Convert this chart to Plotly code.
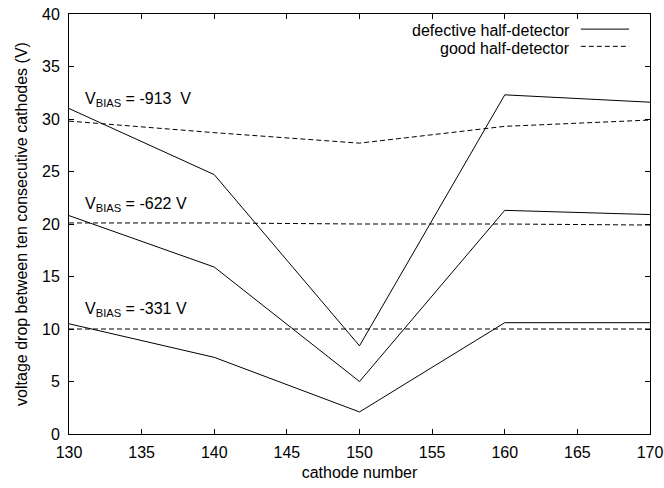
import plotly.graph_objects as go

cathodes = [130, 140, 150, 160, 170]
defective_913 = [31.0, 24.7, 8.4, 32.3, 31.6]
good_913 = [29.8, 28.7, 27.7, 29.3, 29.9]
defective_622 = [20.8, 15.9, 5.0, 21.3, 20.9]
good_622 = [20.1, 20.1, 20.0, 20.0, 19.9]
defective_331 = [10.5, 7.3, 2.1, 10.6, 10.6]
good_331 = [10.0, 10.0, 10.0, 10.0, 10.0]

bias_labels = ["V<sub>BIAS</sub> = -913&nbsp; V", "V<sub>BIAS</sub> = -622 V", "V<sub>BIAS</sub> = -331 V"]
bias_label_y = [31.9, 21.9, 11.9]
bias_label_x = 130.95

FONT = "Liberation Sans, Arial, Helvetica, sans-serif"
FS = 16
fig = go.Figure()
for ys in [defective_913, defective_622, defective_331]:
    fig.add_trace(go.Scatter(x=cathodes, y=ys, mode="lines",
                             line=dict(color="black", width=1), showlegend=False))
for ys in [good_913, good_622, good_331]:
    fig.add_trace(go.Scatter(x=cathodes, y=ys, mode="lines",
                             line=dict(color="black", width=1, dash="5px,3px"), showlegend=False))

for t, y in zip(bias_labels, bias_label_y):
    fig.add_annotation(x=bias_label_x, y=y, text=t, showarrow=False, xanchor="left",
                       yanchor="middle", font=dict(size=FS, color="black", family=FONT))

# legend drawn manually (text right, sample line on right side)
legend_items = [("defective half-detector", "solid"), ("good half-detector", "5px,3px")]
leg_y = [0.96, 0.919]
for (name, dash), ly in zip(legend_items, leg_y):
    fig.add_annotation(xref="paper", yref="paper", x=0.862, y=ly, text=name, showarrow=False,
                       xanchor="right", yanchor="middle", xshift=2,
                       font=dict(size=FS, color="black", family=FONT))
    fig.add_shape(type="line", xref="paper", yref="paper", x0=0.881, x1=0.964, y0=ly + 0.004, y1=ly + 0.004,
                  line=dict(color="black", width=1, dash=dash))

axis_common = dict(showline=True, linecolor="black", linewidth=1, mirror="ticks",
                   ticks="inside", ticklen=5, tickcolor="black", showgrid=False, zeroline=False,
                   tickfont=dict(size=FS, color="black", family=FONT))
fig.update_xaxes(range=[130, 170], dtick=5, tick0=130, ticklabelstandoff=4,
                 title=dict(text="cathode number", font=dict(size=FS, color="black", family=FONT), standoff=6),
                 **axis_common)
fig.update_yaxes(range=[0, 40], dtick=5, tick0=0, ticklabelstandoff=5,
                 title=dict(text="voltage drop between ten consecutive cathodes (V)",
                            font=dict(size=FS, color="black", family=FONT), standoff=10),
                 **axis_common)
fig.update_layout(width=664, height=488, margin=dict(l=69, r=14, t=14, b=54, autoexpand=False),
                  plot_bgcolor="white", paper_bgcolor="white", font=dict(family=FONT, color="black"))
fig.write_html("out.html")
